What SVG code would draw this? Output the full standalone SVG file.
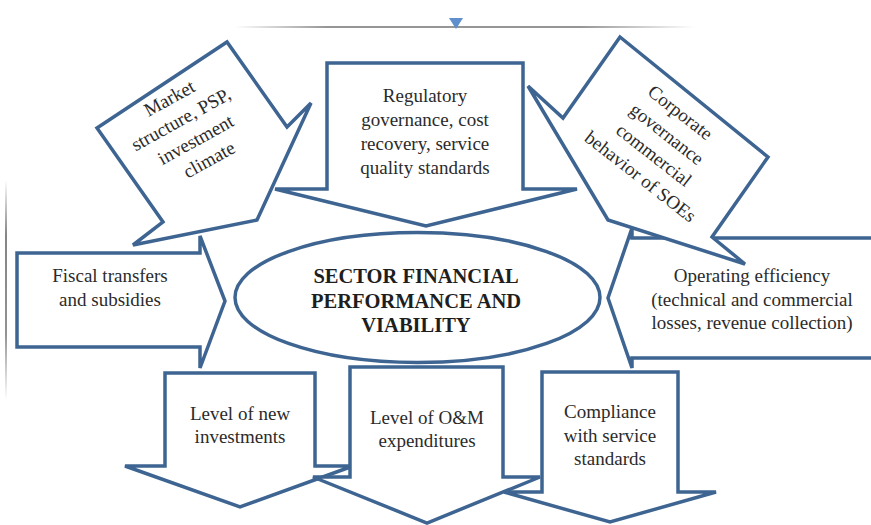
<svg xmlns="http://www.w3.org/2000/svg" width="871" height="525" viewBox="0 0 871 525">
<defs>
<linearGradient id="gh" x1="0" y1="0" x2="1" y2="0">
<stop offset="0" stop-color="#888" stop-opacity="0"/>
<stop offset="0.2" stop-color="#8a8a8a" stop-opacity="0.9"/>
<stop offset="0.75" stop-color="#8a8a8a" stop-opacity="0.9"/>
<stop offset="1" stop-color="#888" stop-opacity="0"/>
</linearGradient>
<linearGradient id="gv" x1="0" y1="0" x2="0" y2="1">
<stop offset="0" stop-color="#777" stop-opacity="0"/>
<stop offset="0.25" stop-color="#777" stop-opacity="0.9"/>
<stop offset="0.7" stop-color="#777" stop-opacity="0.8"/>
<stop offset="1" stop-color="#777" stop-opacity="0"/>
</linearGradient>
</defs>
<style>
.s{fill:#fff;stroke:#3e6592;stroke-width:3.5;stroke-linejoin:miter}
.t{font-family:"Liberation Serif","DejaVu Serif",serif;font-size:19px;fill:#2b2b2b;text-anchor:middle}
.b{font-family:"Liberation Serif","DejaVu Serif",serif;font-size:20.5px;font-weight:bold;fill:#1e1e1e;text-anchor:middle}
</style>
<rect width="871" height="525" fill="#fff"/>
<rect x="235" y="26" width="460" height="2" fill="url(#gh)"/>
<polygon points="449,18 463,18 456,29" fill="#5f8fcc"/>
<rect x="5" y="180" width="2" height="220" fill="url(#gv)"/>

<g id="operating">
<polygon class="s" points="880,238 632,238 632,228 608,298 632,368 632,358 880,358"/>
<text class="t" x="752" y="282">Operating efficiency</text>
<text class="t" x="752" y="306">(technical and commercial</text>
<text class="t" x="752" y="329">losses, revenue collection)</text>
</g>
<g id="corporate">
<polygon class="s" points="620,37 768,157 712,237 745,264 608,220 528,86 563,118"/>
<text class="t" transform="translate(676.5,117.5) rotate(38)">Corporate</text>
<text class="t" transform="translate(663,139) rotate(38)">governance</text>
<text class="t" transform="translate(650,160) rotate(38)">commercial</text>
<text class="t" transform="translate(636.5,181.5) rotate(38)">behavior of SOEs</text>
</g>
<g id="fiscal">
<polygon class="s" points="17,253 200,253 200,236 225,301 200,368 200,347 17,347"/>
<text class="t" x="110" y="282">Fiscal transfers</text>
<text class="t" x="110" y="306">and subsidies</text>
</g>
<g id="market">
<polygon class="s" points="97,128 227,42 287,127 311,103 257,220 133,245 163,222"/>
<g transform="translate(188,134) rotate(-29)">
<text class="t" x="1" y="-34">Market</text>
<text class="t" x="1" y="-10">structure, PSP,</text>
<text class="t" x="4" y="15">investment</text>
<text class="t" x="6" y="39">climate</text>
</g>
</g>
<g id="regulatory">
<polygon class="s" points="327,63 523,63 523,189 577,189 426,226 275,189 327,189"/>
<text class="t" x="425" y="102">Regulatory</text>
<text class="t" x="425" y="126">governance, cost</text>
<text class="t" x="425" y="150">recovery, service</text>
<text class="t" x="425" y="174">quality standards</text>
</g>
<g id="new-investments">
<polygon class="s" points="165,373 315,373 315,466 353,466 240,507 125,466 165,466"/>
<text class="t" x="240" y="420">Level of new</text>
<text class="t" x="240" y="443">investments</text>
</g>
<g id="om-expenditures">
<polygon class="s" points="350,367 503,367 503,477 540,477 427,523 313,477 350,477"/>
<text class="t" x="427" y="424">Level of O&amp;M</text>
<text class="t" x="427" y="447">expenditures</text>
</g>
<g id="compliance">
<polygon class="s" points="542,372 678,372 678,492 716,492 610,522 504,492 542,492"/>
<text class="t" x="610" y="418">Compliance</text>
<text class="t" x="610" y="442">with service</text>
<text class="t" x="610" y="465">standards</text>
</g>
<g id="center">
<ellipse class="s" cx="417.5" cy="297.5" rx="182.5" ry="65"/>
<text class="b" x="416" y="283">SECTOR FINANCIAL</text>
<text class="b" x="416" y="307.5">PERFORMANCE AND</text>
<text class="b" x="416" y="332">VIABILITY</text>
</g>
</svg>
